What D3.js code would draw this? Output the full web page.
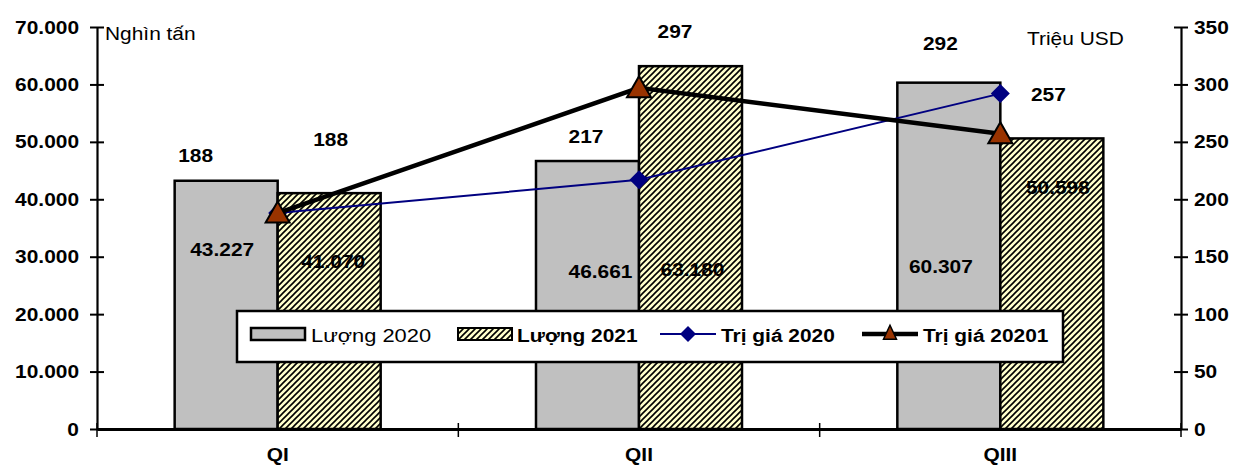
<!DOCTYPE html>
<html>
<head>
<meta charset="utf-8">
<script src="https://cdn.jsdelivr.net/npm/d3@7"></script>
<style>
  html, body { margin: 0; padding: 0; background: #fff; }
  svg { display: block; font-family: "Liberation Sans", Arial, sans-serif; }
</style>
</head>
<body>
<svg id="chart" width="1233" height="466"></svg>
<script>
// Quarterly volume (thousand tonnes) and value (million USD)
const categories = ["QI", "QII", "QIII"];
const luong2020 = [43227, 46661, 60307];
const luong2021 = [41070, 63180, 50598];
const triGia2020 = [188, 217, 292];
const triGia2021 = [188, 297, 257];
const leftTicks = [0, 10000, 20000, 30000, 40000, 50000, 60000, 70000];
const rightTicks = [0, 50, 100, 150, 200, 250, 300, 350];
const legendLabels = ["Lượng 2020", "Lượng 2021", "Trị giá 2020", "Trị giá 20201"];

// Hand-placed label offsets (dx, dy) in pixels
const barLabelNudge2020 = [[-4, 69], [13, 110], [-8, 184]];
const barLabelNudge2021 = [[4, 68], [2, 203], [6, 49]];
const valLabelNudge2020 = [[-82, -58], [-53, -43], [-60, -50]];
const valLabelNudge2021 = [[53, -74], [36, -57], [48, -39]];

const svg = d3.select("#chart");
const plotLeft = 97, plotRight = 1181, plotTop = 27, plotBottom = 429;
const STRETCH = 1.1;
const FS = 19;

const fmt = d3.formatLocale({ decimal: ",", thousands: ".", grouping: [3], currency: ["", ""] }).format(",d");

const x = d3.scaleBand().domain(categories).range([plotLeft, plotRight]);
const xInner = d3.scaleBand().domain(["a", "b"]).range([0, x.bandwidth()]).paddingInner(0).paddingOuter(0.754);
const yL = d3.scaleLinear().domain([0, 70000]).range([plotBottom, plotTop]);
const yR = d3.scaleLinear().domain([0, 350]).range([plotBottom, plotTop]);

// hatch pattern for 2021 volume
const defs = svg.append("defs");
const pat = defs.append("pattern").attr("id", "hatch")
  .attr("patternUnits", "userSpaceOnUse").attr("width", 6).attr("height", 6);
pat.append("rect").attr("width", 6).attr("height", 6).attr("fill", "#FFFFCC");
pat.append("path").attr("d", "M0,6 L6,0 M-1.5,1.5 L1.5,-1.5 M4.5,7.5 L7.5,4.5")
  .attr("stroke", "#000").attr("stroke-width", 1.6).attr("stroke-linecap", "square");

function txt(g, px, py, s, o = {}) {
  return g.append("text")
    .attr("transform", `translate(${px},${py}) scale(${o.sx || STRETCH},1)`)
    .attr("text-anchor", o.anchor || "start")
    .attr("dy", o.dy || 0)
    .attr("font-size", o.size || FS)
    .attr("font-weight", o.bold === false ? "normal" : "bold")
    .attr("fill", "#000")
    .text(s);
}

// bars
const gBars = svg.append("g");
gBars.selectAll("rect.b20").data(luong2020).join("rect")
  .attr("x", (d, i) => x(categories[i]) + xInner("a"))
  .attr("y", d => yL(d))
  .attr("width", xInner.bandwidth())
  .attr("height", d => plotBottom - yL(d))
  .attr("fill", "#C0C0C0").attr("stroke", "#000").attr("stroke-width", 2.5);
gBars.selectAll("rect.b21").data(luong2021).join("rect")
  .attr("x", (d, i) => x(categories[i]) + xInner("b"))
  .attr("y", d => yL(d))
  .attr("width", xInner.bandwidth())
  .attr("height", d => plotBottom - yL(d))
  .attr("fill", "url(#hatch)").attr("stroke", "#000").attr("stroke-width", 2.5);

// axes
const gAx = svg.append("g");
const axL = d3.axisLeft(yL).tickValues(leftTicks).tickFormat(fmt).tickSizeInner(7).tickSizeOuter(0).tickPadding(11);
const axR = d3.axisRight(yR).tickValues(rightTicks).tickSizeInner(7).tickSizeOuter(0).tickPadding(6);
const axB = d3.axisBottom(x).tickSize(0).tickFormat("");

const gL = gAx.append("g").attr("transform", `translate(${plotLeft},0)`).call(axL);
const gR = gAx.append("g").attr("transform", `translate(${plotRight},0)`).call(axR);
[gL, gR].forEach(g => {
  g.select(".domain").attr("stroke", "#000").attr("stroke-width", 2.2);
  g.selectAll(".tick line").attr("stroke", "#000").attr("stroke-width", 2)
    .attr("x1", function() { return -(+d3.select(this).attr("x2")); });
  g.selectAll(".tick text").attr("font-size", FS).attr("font-weight", "bold")
    .attr("font-family", "Liberation Sans, Arial, sans-serif").attr("fill", "#000");
  g.selectAll(".tick text").each(function() {
    const t = d3.select(this);
    t.attr("transform", `translate(${+t.attr("x")},0) scale(${STRETCH},1)`).attr("x", 0);
  });
});

const gB = gAx.append("g").attr("transform", `translate(0,${plotBottom})`).call(axB);
gB.select(".domain").attr("stroke", "#000").attr("stroke-width", 3);
// category separators
const sepX = categories.map(c => x(c)).concat([x(categories[categories.length - 1]) + x.bandwidth()]);
gB.selectAll("line.sep").data(sepX).join("line")
  .attr("class", "sep")
  .attr("x1", d => d).attr("x2", d => d)
  .attr("y1", -6).attr("y2", 8).attr("stroke", "#000").attr("stroke-width", 1.5);
categories.forEach(c => txt(svg, x(c) + x.bandwidth() / 2, 461, c, { anchor: "middle" }));

// axis titles
txt(svg, 105, 40, "Nghìn tấn", { bold: false });
txt(svg, 1027, 45, "Triệu USD", { bold: false });

// value lines
const cx = c => x(c) + x.bandwidth() / 2;
const valueLine = d3.line().x((d, i) => cx(categories[i])).y(d => yR(d));
svg.append("path").datum(triGia2020).attr("d", valueLine)
  .attr("fill", "none").attr("stroke", "#000080").attr("stroke-width", 2);
const diamond = s => `M0,${-s} L${s},0 L0,${s} L${-s},0 Z`;
svg.selectAll("path.dia").data(triGia2020).join("path").attr("class", "dia")
  .attr("transform", (d, i) => `translate(${cx(categories[i])},${yR(d)})`)
  .attr("d", diamond(9.5)).attr("fill", "#000080");

svg.append("path").datum(triGia2021).attr("d", valueLine)
  .attr("fill", "none").attr("stroke", "#000").attr("stroke-width", 4.5);
const tri = (w, h) => `M0,${-h * 0.55} L${w / 2},${h * 0.45} L${-w / 2},${h * 0.45} Z`;
svg.selectAll("path.tri").data(triGia2021).join("path").attr("class", "tri")
  .attr("transform", (d, i) => `translate(${cx(categories[i])},${yR(d)})`)
  .attr("d", tri(24, 21)).attr("fill", "#993300").attr("stroke", "#000").attr("stroke-width", 2);

// data labels
luong2020.forEach((d, i) => txt(svg, x(categories[i]) + xInner("a") + xInner.bandwidth() / 2 + barLabelNudge2020[i][0],
  yL(d) + barLabelNudge2020[i][1], fmt(d), { anchor: "middle", dy: "0.35em" }));
luong2021.forEach((d, i) => txt(svg, x(categories[i]) + xInner("b") + xInner.bandwidth() / 2 + barLabelNudge2021[i][0],
  yL(d) + barLabelNudge2021[i][1], fmt(d), { anchor: "middle", dy: "0.35em" }));
triGia2020.forEach((d, i) => txt(svg, cx(categories[i]) + valLabelNudge2020[i][0], yR(d) + valLabelNudge2020[i][1],
  d, { anchor: "middle", dy: "0.35em" }));
triGia2021.forEach((d, i) => txt(svg, cx(categories[i]) + valLabelNudge2021[i][0], yR(d) + valLabelNudge2021[i][1],
  d, { anchor: "middle", dy: "0.35em" }));

// legend
const lg = svg.append("g");
lg.append("rect").attr("x", 237).attr("y", 311).attr("width", 826).attr("height", 51)
  .attr("fill", "#fff").attr("stroke", "#000").attr("stroke-width", 2.5);
const ly = 334;
lg.append("rect").attr("x", 251).attr("y", ly - 6).attr("width", 54).attr("height", 12)
  .attr("fill", "#C0C0C0").attr("stroke", "#000").attr("stroke-width", 2.5);
txt(lg, 311, 342, legendLabels[0], { bold: false, sx: 1.15 });
lg.append("rect").attr("x", 458).attr("y", ly - 6).attr("width", 54).attr("height", 12)
  .attr("fill", "url(#hatch)").attr("stroke", "#000").attr("stroke-width", 2);
txt(lg, 517, 342, legendLabels[1]);
lg.append("line").attr("x1", 660).attr("x2", 716).attr("y1", ly).attr("y2", ly)
  .attr("stroke", "#000080").attr("stroke-width", 2);
lg.append("path").attr("transform", `translate(688,${ly})`).attr("d", diamond(8)).attr("fill", "#000080");
txt(lg, 721, 342, legendLabels[2]);
lg.append("line").attr("x1", 862).attr("x2", 918).attr("y1", ly).attr("y2", ly)
  .attr("stroke", "#000").attr("stroke-width", 4.5);
lg.append("path").attr("transform", `translate(890,${ly - 1})`).attr("d", tri(13, 14))
  .attr("fill", "#993300").attr("stroke", "#000").attr("stroke-width", 1.5);
txt(lg, 923, 342, legendLabels[3]);
</script>
</body>
</html>
